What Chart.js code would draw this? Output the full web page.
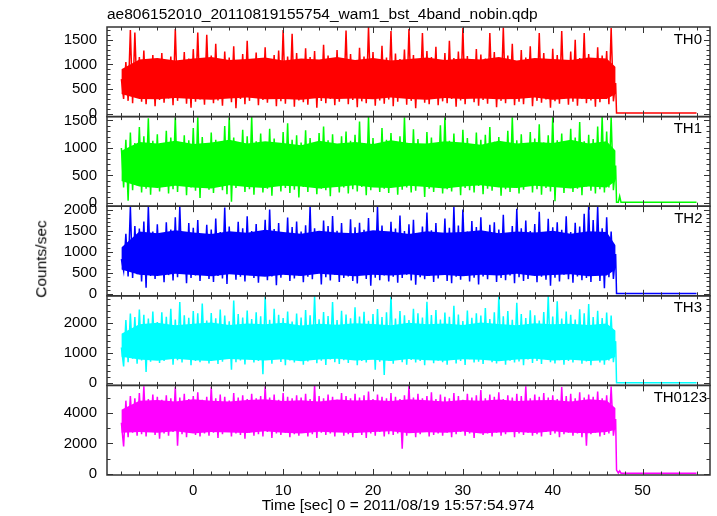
<!DOCTYPE html>
<html lang="en">
<head>
<meta charset="UTF-8">
<title>ae806152010 WAM BST light curve</title>
<style>
  body { margin: 0; background: #fff; }
  #wrap { position: relative; width: 717px; height: 516px; font-family: 'Liberation Sans', Arial, sans-serif; color: #000; }
  #wrap canvas { position: absolute; left: 0; top: 0; }
  .txt { position: absolute; line-height: 1; white-space: nowrap; font-size: 15.5px; }
</style>
</head>
<body>
<div id="wrap">
  <div class="txt" style="left:107px; top:6px;">ae806152010_20110819155754_wam1_bst_4band_nobin.qdp</div>
  <div class="txt" style="left:41px; top:259px; transform: translate(-50%,-50%) rotate(-90deg);">Counts/sec</div>
  <div class="txt" style="left:398px; top:497px; transform: translateX(-50%);">Time [sec] 0 = 2011/08/19 15:57:54.974</div>
</div>
<script src="https://cdn.jsdelivr.net/npm/chart.js"></script>
<script>
const tStart = -8;
const tStep = 0.25;

const th0 = [
  700, 300, 1050, 260, 1700, 210, 1650, 330, 1150, 240, 1280, 190, 1010, 350, 1190, 150, 1100, 280, 1230, 220,
  1080, 310, 1160, 170, 1720, 260, 1000, 380, 1250, 200, 1120, 120, 1310, 240, 1650, 290, 1050, 180, 1600, 330,
  1180, 210, 1420, 270, 990, 160, 1260, 350, 1140, 230, 1370, 110, 1020, 300, 1210, 190, 1480, 260, 1090, 340,
  1240, 170, 1130, 280, 1350, 220, 1060, 390, 1190, 150, 1280, 250, 1700, 200, 1160, 310, 1620, 140, 1230, 270,
  1010, 230, 1330, 180, 1150, 340, 1270, 120, 1090, 260, 1400, 210, 1180, 300, 1060, 170, 1290, 240, 1120, 320,
  1690, 190, 1210, 280, 1070, 130, 1340, 250, 1160, 210, 1760, 330, 1250, 160, 1030, 270, 1380, 200, 1140, 290,
  1680, 150, 1220, 240, 1110, 360, 1300, 180, 1720, 260, 1190, 110, 1080, 300, 1640, 220, 1270, 190, 1150, 340,
  1360, 170, 1050, 250, 1230, 210, 1480, 300, 1130, 140, 1260, 270, 1740, 190, 1170, 320, 1090, 230, 1310, 160,
  1200, 280, 1120, 200, 1640, 350, 1250, 130, 1080, 260, 1750, 210, 1180, 300, 1420, 170, 1060, 240, 1290, 190,
  1140, 330, 1370, 150, 1020, 260, 1640, 220, 1230, 290, 1110, 120, 1320, 250, 1190, 200, 1680, 310, 1070, 180,
  1260, 240, 1500, 160, 1130, 300, 1640, 210, 1210, 270, 1090, 140, 1350, 230, 1180, 320, 1270, 190, 1740, 250,
  620
];
const th1 = [
  1000, 280, 1150, 40, 1280, 230, 1090, 320, 1380, 190, 1210, 260, 1540, 150, 1130, 300, 1250, 210, 1060, 340,
  1310, 170, 1190, 250, 1570, 200, 1080, 330, 1230, 140, 1140, 280, 1360, 220, 1560, 90, 1200, 310, 1070, 240,
  1280, 180, 1150, 290, 1020, 230, 1400, 160, 1560, 20, 1190, 270, 1090, 340, 1330, 200, 1210, 250, 1570, 150,
  1120, 300, 1260, 190, 1040, 260, 1350, 130, 1170, 320, 1080, 210, 1290, 270, 1450, 180, 1150, 240, 1230, 100,
  1100, 290, 1320, 200, 1180, 350, 1060, 160, 1270, 260, 1390, 230, 1140, 120, 1250, 310, 1070, 190, 1210, 280,
  1300, 170, 1130, 250, 1240, 210, 1480, 290, 1090, 140, 1570, 230, 1180, 320, 1050, 200, 1360, 260, 1150, 180,
  1270, 300, 1110, 150, 1210, 240, 1560, 280, 1080, 190, 1340, 220, 1160, 330, 1020, 110, 1290, 260, 1190, 200,
  1070, 290, 1410, 170, 1570, 250, 1130, 210, 1260, 320, 1090, 140, 1330, 270, 1180, 230, 1040, 190, 1280, 310,
  1150, 160, 1240, 260, 1380, 220, 1110, 300, 1200, 130, 1060, 250, 1310, 200, 1560, 280, 1140, 170, 1250, 240,
  1020, 310, 1290, 190, 1170, 250, 1430, 150, 1100, 270, 1230, 210, 1570, 30, 1140, 290, 1260, 180, 1080, 330,
  1350, 200, 1190, 260, 1470, 140, 1120, 300, 1240, 220, 1160, 170, 1390, 250, 1570, 190, 1300, 280, 1560, 230,
  680
];
const th2 = [
  830, 550, 1430, 420, 2060, 380, 1610, 470, 1550, 300, 1720, 150, 2080, 430, 1480, 360, 1650, 510, 1390, 280,
  1700, 450, 1530, 320, 1820, 400, 2070, 490, 1460, 260, 1680, 380, 1570, 440, 1750, 310, 1420, 520, 1640, 360,
  1530, 290, 1790, 430, 1470, 370, 2050, 240, 1600, 480, 1380, 340, 1710, 410, 1560, 300, 1840, 450, 1490, 380,
  1660, 270, 1420, 500, 1760, 330, 2000, 420, 1540, 210, 1680, 390, 1450, 460, 1810, 310, 1590, 370, 1720, 440,
  1480, 280, 1630, 410, 2080, 350, 1560, 480, 1390, 230, 1740, 400, 1610, 320, 1850, 460, 1500, 290, 1680, 380,
  1430, 420, 1770, 310, 1580, 250, 1690, 470, 1520, 360, 1800, 200, 1460, 390, 2070, 330, 1620, 440, 1400, 300,
  1710, 410, 1550, 270, 1860, 380, 1490, 460, 1650, 320, 1760, 220, 1420, 400, 1600, 350, 1930, 430, 1510, 290,
  1680, 370, 1440, 480, 1790, 310, 1570, 260, 2060, 410, 1620, 340, 2000, 450, 1480, 300, 1730, 390, 1590, 230,
  1820, 420, 1460, 350, 1640, 470, 1700, 290, 1530, 380, 1880, 330, 1410, 440, 1610, 260, 2020, 400, 1560, 310,
  1740, 360, 1490, 450, 1660, 280, 1950, 410, 1430, 340, 1780, 200, 1580, 390, 1700, 300, 1520, 460, 1840, 350,
  1470, 270, 1690, 420, 1600, 330, 1900, 380, 2070, 290, 1750, 440, 2080, 310, 1560, 140, 1820, 400, 1480, 360,
  950
];
const th3 = [
  1190, 560, 2100, 700, 2320, 820, 2200, 650, 2450, 760, 2280, 380, 2150, 720, 2390, 800, 2040, 680, 2360, 740,
  2210, 850, 2480, 620, 2120, 770, 2700, 690, 2260, 810, 2180, 600, 2400, 740, 2330, 700, 2650, 830, 2090, 660,
  2340, 780, 2160, 640, 2450, 720, 2250, 820, 2060, 450, 2750, 700, 2300, 760, 2190, 630, 2420, 800, 2140, 690,
  2360, 740, 2230, 300, 2900, 780, 2110, 650, 2480, 820, 2280, 710, 2170, 600, 2390, 760, 2050, 690, 2320, 840,
  2190, 620, 2440, 730, 2260, 800, 2900, 670, 2130, 750, 2370, 610, 2240, 790, 2700, 700, 2100, 640, 2410, 770,
  2290, 680, 2160, 820, 2530, 600, 2220, 740, 2380, 690, 2080, 810, 2300, 450, 2470, 720, 2200, 280, 2360, 760,
  2910, 650, 2150, 800, 2400, 700, 2260, 620, 2100, 780, 2480, 690, 2330, 740, 2190, 600, 2710, 810, 2270, 670,
  2440, 750, 2120, 700, 2350, 620, 2210, 790, 2580, 660, 2290, 740, 2070, 610, 2420, 800, 2180, 690, 2330, 720,
  2250, 640, 2500, 780, 2140, 700, 2360, 660, 2910, 810, 2230, 620, 2400, 750, 2110, 690, 2680, 730, 2300, 600,
  2170, 790, 2430, 680, 2260, 740, 2090, 640, 2370, 800, 2910, 700, 2220, 660, 2730, 770, 2150, 620, 2390, 740,
  2280, 690, 2120, 810, 2460, 650, 2330, 730, 2640, 600, 2200, 780, 2410, 690, 2170, 620, 2350, 760, 2250, 700,
  1400
];
const th0123 = [
  3350, 1800, 4800, 2400, 5100, 2700, 4950, 2500, 5300, 2600, 5750, 2450, 4900, 2800, 5200, 2550, 5050, 2300, 4850, 2650,
  5150, 2500, 4950, 2750, 5700, 1850, 5000, 2600, 5250, 2400, 4900, 2700, 5100, 2550, 5350, 2450, 4850, 2650, 5050, 2500,
  5700, 2700, 4950, 2350, 5200, 2600, 5050, 2800, 4800, 2450, 5300, 2650, 5000, 2550, 5150, 2300, 4900, 2700, 5250, 2500,
  4950, 2600, 5100, 2450, 5750, 2750, 5000, 2350, 5200, 2650, 4850, 2550, 5300, 2700, 5050, 2400, 4950, 2600, 5150, 2500,
  5000, 2750, 5250, 2450, 4900, 2600, 5800, 2350, 5100, 2700, 4950, 2550, 5200, 2650, 5050, 2450, 4850, 2750, 5300, 2500,
  5100, 2600, 4950, 2400, 5250, 2700, 5000, 2550, 5150, 2350, 5400, 2650, 4900, 2500, 5200, 2750, 5050, 2450, 4950, 2600,
  5300, 2550, 5050, 2650, 4900, 1650, 5150, 2500, 5780, 2700, 5000, 2400, 5250, 2600, 4950, 2750, 5100, 2450, 5350, 2550,
  4900, 2650, 5200, 2500, 5050, 2700, 4950, 2400, 5300, 2600, 5100, 2750, 4850, 2500, 5250, 2650, 5000, 2350, 5150, 2700,
  5500, 2550, 4950, 2650, 5200, 2450, 5050, 2700, 5350, 2500, 4900, 2600, 5150, 2750, 5000, 2400, 5250, 2650, 5100, 2550,
  5750, 2700, 4950, 2500, 5200, 2600, 5050, 2450, 5300, 2750, 5000, 2550, 5150, 2650, 4900, 2400, 5700, 2600, 5100, 2700,
  5250, 2500, 4950, 2650, 5350, 2400, 5000, 1850, 5200, 2600, 5050, 2700, 5400, 2450, 4950, 2550, 5150, 2650, 5720, 2500,
  3600
];

// dense core of each band (where the curve is solid colour), read every 2 s
const coreTimes = [-8, -6, -4, -2, 0, 2, 4, 6, 8, 10, 12, 14, 16, 18, 20, 22, 24, 26, 28, 30, 32, 34, 36, 38, 40, 42, 44, 46, 47];
const core0Hi = [900, 1100, 1130, 1080, 1120, 1150, 1090, 1110, 1140, 1080, 1120, 1100, 1150, 1090, 1130, 1080, 1110, 1140, 1090, 1120, 1100, 1150, 1080, 1130, 1110, 1090, 1140, 1120, 950];
const core0Lo = [400, 300, 290, 320, 300, 280, 310, 330, 290, 300, 280, 320, 300, 310, 290, 330, 300, 280, 320, 300, 310, 290, 300, 330, 280, 310, 300, 300, 400];
const core1Hi = [950, 1110, 1080, 1130, 1070, 1100, 1150, 1080, 1120, 1090, 1050, 1130, 1080, 1110, 1070, 1140, 1090, 1080, 1120, 1100, 1060, 1130, 1080, 1110, 1090, 1150, 1080, 1120, 950];
const core1Lo = [400, 300, 270, 310, 280, 260, 320, 290, 270, 310, 300, 260, 290, 320, 280, 270, 310, 290, 260, 300, 320, 280, 270, 310, 290, 260, 300, 280, 400];
const core2Hi = [1100, 1480, 1440, 1510, 1460, 1420, 1490, 1450, 1520, 1470, 1430, 1500, 1460, 1440, 1510, 1480, 1420, 1490, 1450, 1470, 1510, 1440, 1480, 1460, 1500, 1430, 1490, 1470, 1150];
const core2Lo = [580, 460, 430, 480, 450, 420, 470, 440, 410, 460, 430, 480, 450, 420, 460, 440, 470, 430, 450, 420, 460, 440, 480, 430, 450, 470, 420, 440, 580];
const core3Hi = [1650, 1960, 2010, 1930, 1980, 2020, 1940, 1990, 1960, 2010, 1920, 1980, 1950, 2000, 1970, 1930, 2010, 1960, 1990, 1940, 2020, 1970, 1930, 2000, 1960, 1980, 1940, 1990, 1750];
const core3Lo = [880, 790, 750, 820, 770, 740, 810, 780, 760, 800, 730, 790, 820, 760, 780, 740, 810, 770, 750, 800, 780, 730, 790, 820, 760, 780, 740, 770, 880];
const core0123Hi = [4200, 4800, 4850, 4750, 4900, 4800, 4750, 4850, 4900, 4770, 4830, 4750, 4880, 4810, 4850, 4770, 4900, 4830, 4750, 4850, 4800, 4880, 4770, 4830, 4850, 4750, 4900, 4810, 4300];
const core0123Lo = [2700, 2750, 2700, 2800, 2650, 2750, 2720, 2680, 2800, 2700, 2650, 2770, 2720, 2680, 2750, 2800, 2660, 2730, 2700, 2780, 2650, 2720, 2750, 2680, 2800, 2700, 2660, 2740, 2900];

// after the burst window ends (t > 47 s)
const tailTimes = [47.1, 47.3, 47.45, 47.6, 56];
const tail0 = [15, 15, 15, 15, 15];
const tail1 = [10, 10, 120, 10, 10];
const tail2 = [15, 15, 15, 15, 15];
const tail3 = [20, 20, 20, 20, 20];
const tail0123 = [250, 60, 200, 50, 50];

const panelNames = ['TH0', 'TH1', 'TH2', 'TH3', 'TH0123'];
const series = [th0, th1, th2, th3, th0123];
const coreHi = [core0Hi, core1Hi, core2Hi, core3Hi, core0123Hi];
const coreLo = [core0Lo, core1Lo, core2Lo, core3Lo, core0123Lo];
const tails = [tail0, tail1, tail2, tail3, tail0123];
const colors = ['#ff0000', '#00ff00', '#0000ff', '#00ffff', '#ff00ff'];

const yMin = [-60, -60, -40, -70, -70];
const yMax = [1760, 1570, 2080, 2910, 5800];
const yTicks = [
  [0, 500, 1000, 1500],
  [0, 500, 1000, 1500],
  [0, 500, 1000, 1500, 2000],
  [0, 1000, 2000],
  [0, 2000, 4000]
];
const yMinor = [100, 100, 100, 200, 1000];
const xTicks = [0, 10, 20, 30, 40, 50];

// page geometry
const W = 717, H = 516;
const tops = [27, 116.6, 206.2, 295.8, 385.4];
const bottoms = [116.6, 206.2, 295.8, 385.4, 475];
const labelRight = [702, 702, 702.5, 702, 707];

Chart.defaults.font.family = "'Liberation Sans', Arial, sans-serif";
Chart.defaults.color = '#000';

// qdp style frame with inward ticks on all four sides
const framePlugin = {
  id: 'frame',
  afterDraw(chart) {
    const { ctx, chartArea: a, scales: { x, y } } = chart;
    const p = chart.options.panel;
    ctx.save();
    ctx.strokeStyle = '#333';
    ctx.lineWidth = 1;
    ctx.beginPath();
    for (let v = -8; v <= 56; v += 2) {
      const px = Math.round(x.getPixelForValue(v)) + 0.5;
      const len = v % 10 === 0 ? 6 : 3.5;
      ctx.moveTo(px, a.top); ctx.lineTo(px, a.top + len);
      ctx.moveTo(px, a.bottom); ctx.lineTo(px, a.bottom - len);
    }
    for (let v = 0; v <= yMax[p]; v += yMinor[p]) {
      const py = Math.round(y.getPixelForValue(v)) + 0.5;
      const len = yTicks[p].includes(v) ? 6 : 3.5;
      ctx.moveTo(a.left, py); ctx.lineTo(a.left + len, py);
      ctx.moveTo(a.right, py); ctx.lineTo(a.right - len, py);
    }
    ctx.stroke();
    ctx.lineWidth = 1.5;
    ctx.strokeRect(a.left, a.top, a.right - a.left, a.bottom - a.top);
    ctx.restore();
  }
};

const wrap = document.getElementById('wrap');

series.forEach((vals, i) => {
  const last = i === series.length - 1;
  const pts = vals.map((v, k) => ({ x: tStart + k * tStep, y: v }));
  tailTimes.forEach((t, k) => pts.push({ x: t, y: tails[i][k] }));
  const lo = coreTimes.map((t, k) => ({ x: t, y: coreLo[i][k] }));
  const hi = coreTimes.map((t, k) => ({ x: t, y: coreHi[i][k] }));

  const cv = document.createElement('canvas');
  cv.width = W; cv.height = H;
  cv.style.width = W + 'px'; cv.style.height = H + 'px';
  wrap.insertBefore(cv, wrap.firstChild);

  const lab = document.createElement('div');
  lab.className = 'txt';
  lab.style.fontSize = '15px';
  lab.style.right = (W - labelRight[i]) + 'px';
  lab.style.top = (tops[i] + 3.5) + 'px';
  lab.textContent = panelNames[i];
  wrap.appendChild(lab);

  new Chart(cv, {
    type: 'line',
    data: {
      datasets: [
        { data: lo, borderWidth: 0, pointRadius: 0, fill: false },
        { data: hi, borderWidth: 0, pointRadius: 0, fill: '-1', backgroundColor: colors[i] },
        { data: pts, borderColor: colors[i], borderWidth: 1.5, pointRadius: 0, tension: 0, fill: false }
      ]
    },
    options: {
      panel: i,
      responsive: false,
      animation: false,
      devicePixelRatio: 1,
      events: [],
      layout: { padding: { left: 0, right: W - 710, top: tops[i], bottom: last ? 0 : H - bottoms[i] } },
      plugins: { legend: { display: false }, tooltip: { enabled: false } },
      scales: {
        x: {
          type: 'linear', min: -9.6, max: 57.5, display: last,
          grid: { display: false, drawTicks: false }, border: { display: false },
          afterBuildTicks: s => { s.ticks = xTicks.map(v => ({ value: v })); },
          afterFit: s => { s.height = last ? H - bottoms[i] : 0; },
          ticks: { padding: 7, autoSkip: false, maxRotation: 0, font: { size: 15 }, callback: v => String(v) }
        },
        y: {
          min: yMin[i], max: yMax[i],
          grid: { display: false, drawTicks: false }, border: { display: false },
          afterBuildTicks: s => { s.ticks = yTicks[i].map(v => ({ value: v })); },
          afterFit: s => { s.width = 107; },
          ticks: { padding: 10, autoSkip: false, font: { size: 15 }, callback: v => String(v) }
        }
      }
    },
    plugins: [framePlugin]
  });
});
</script>
</body>
</html>
